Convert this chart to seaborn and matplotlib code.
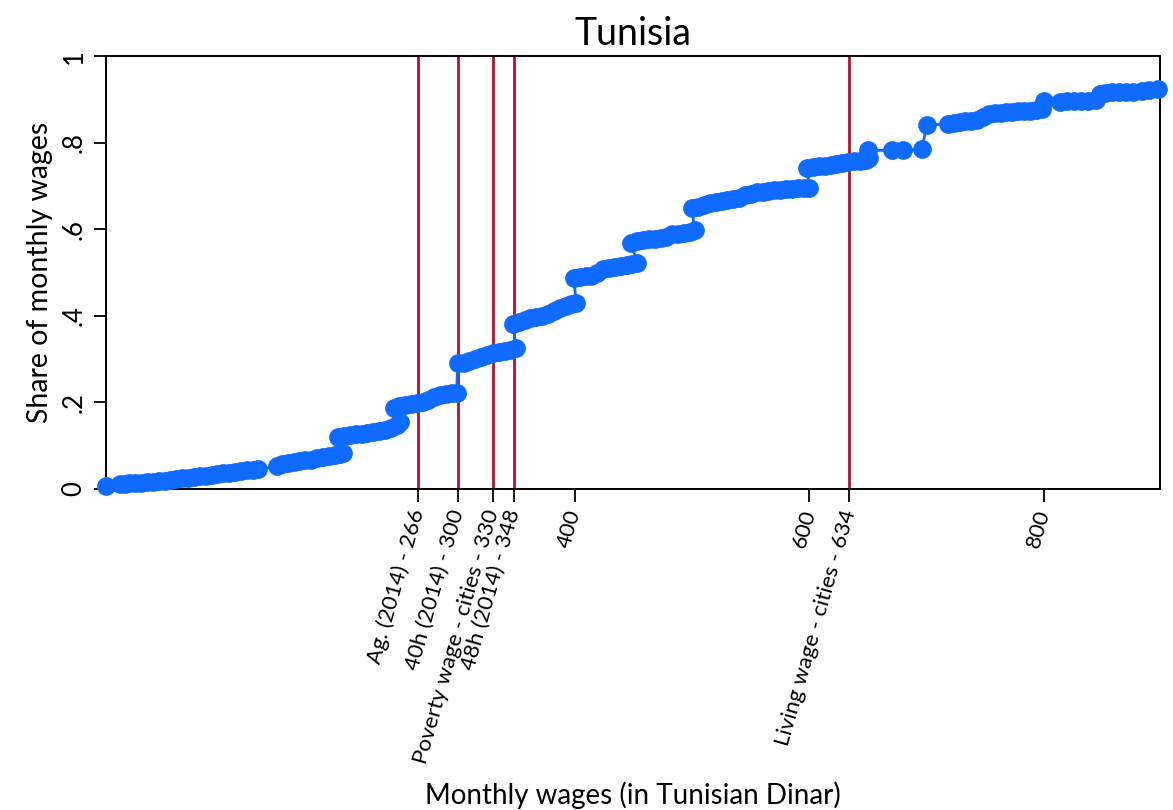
import matplotlib
matplotlib.use("Agg")
import matplotlib.pyplot as plt
import seaborn as sns
import pandas as pd

title = "Tunisia"
x_label = "Monthly wages (in Tunisian Dinar)"
y_label = "Share of monthly wages"

# Cumulative share of monthly wages
wages = [
    0,
    12, 16, 20, 25, 30, 35, 40, 45, 50, 55, 60, 65, 70, 75, 80, 85, 90, 95,
    100, 105, 110, 115, 120, 125, 130,
    146, 150, 155, 160, 165, 170, 175, 180, 185, 190, 195, 200, 202,
    198, 203, 208, 213, 218, 223, 228, 233, 238, 243, 248, 251,
    246, 250, 255, 260, 265, 270, 275, 280, 285, 290, 295, 299,
    300, 305, 310, 315, 320, 325, 330, 335, 340, 345, 350,
    347, 352, 357, 362, 367, 372, 377, 382, 387, 392, 397, 401,
    399, 404, 409, 414, 419, 424, 429, 434, 439, 444, 449, 453,
    448, 453, 458, 463, 468, 473, 478, 483, 488, 493, 498, 502,
    500, 505, 510, 515, 520, 525, 530, 535, 540, 545, 550, 555, 560, 565,
    570, 575, 580, 585, 590, 595, 600,
    598, 603, 608, 613, 618, 623, 628, 633, 638, 643, 648, 651,
    650, 670, 680, 696,
    700, 718, 723, 728, 733, 738, 743, 748, 753, 758, 763, 768, 773, 778,
    783, 788, 793, 798, 800,
    814, 820, 826, 832, 838, 844, 848, 852, 858, 864, 870, 876, 884, 890, 897,
]
shares = [
    0.008,
    0.012, 0.012, 0.013, 0.014, 0.015, 0.016, 0.017, 0.018, 0.019, 0.021, 0.023,
    0.025, 0.026, 0.027, 0.029, 0.030, 0.032, 0.034,
    0.036, 0.037, 0.039, 0.041, 0.043, 0.044, 0.046,
    0.052, 0.057, 0.060, 0.062, 0.064, 0.066, 0.068, 0.071, 0.073, 0.076, 0.079,
    0.081, 0.083,
    0.120, 0.122, 0.124, 0.126, 0.128, 0.130, 0.132, 0.134, 0.137, 0.140, 0.148,
    0.155,
    0.187, 0.192, 0.195, 0.197, 0.199, 0.201, 0.205, 0.212, 0.218, 0.220, 0.221,
    0.222,
    0.290, 0.292, 0.295, 0.300, 0.305, 0.310, 0.313, 0.316, 0.319, 0.322, 0.325,
    0.380, 0.385, 0.390, 0.395, 0.397, 0.400, 0.405, 0.410, 0.418, 0.422, 0.427,
    0.430,
    0.488, 0.490, 0.491, 0.492, 0.500, 0.507, 0.510, 0.513, 0.516, 0.518, 0.520,
    0.522,
    0.568, 0.572, 0.575, 0.577, 0.578, 0.580, 0.583, 0.588, 0.590, 0.592, 0.594,
    0.597,
    0.648, 0.652, 0.655, 0.660, 0.662, 0.665, 0.668, 0.670, 0.673, 0.678, 0.682,
    0.685, 0.687, 0.689, 0.690, 0.691, 0.692, 0.693, 0.694, 0.694, 0.695,
    0.742, 0.744, 0.745, 0.746, 0.748, 0.750, 0.752, 0.755, 0.757, 0.758, 0.760,
    0.765,
    0.782, 0.782, 0.783, 0.785,
    0.840, 0.843, 0.845, 0.847, 0.849, 0.851, 0.853, 0.858, 0.866, 0.868, 0.869,
    0.870, 0.871, 0.872, 0.873, 0.874, 0.876, 0.878, 0.897,
    0.894, 0.895, 0.895, 0.896, 0.896, 0.898, 0.912, 0.915, 0.916, 0.916, 0.917,
    0.918, 0.920, 0.922, 0.924,
]

# Reference wage lines
ref_values = [266, 300, 330, 348, 634]
ref_labels = ["Ag. (2014) - 266", "40h (2014) - 300", "Poverty wage - cities - 330",
              "48h (2014) - 348", "Living wage - cities - 634"]
plain_ticks = [400, 600, 800]
y_ticks = [0, 0.2, 0.4, 0.6, 0.8, 1.0]
y_tick_labels = ["0", ".2", ".4", ".6", ".8", "1"]

sns.set_theme(style="white")
plt.rcParams["font.family"] = ["Lato", "DejaVu Sans"]
plt.rcParams["text.color"] = "black"
plt.rcParams["axes.labelcolor"] = "black"
plt.rcParams["xtick.color"] = "black"
plt.rcParams["ytick.color"] = "black"

fig = plt.figure(figsize=(11.73, 8.10), dpi=100)
ax = fig.add_axes([106 / 1173, 1 - 489 / 810, (1160 - 106) / 1173, (489 - 56) / 810])

df = pd.DataFrame({"wage": wages, "share": shares})

for v in ref_values:
    ax.axvline(v, color="#B3122E", lw=2.0, zorder=1)

sns.lineplot(data=df, x="wage", y="share", estimator=None, sort=False,
             color="#0F6BFF", lw=2.0, marker="o", markersize=13.5,
             markeredgewidth=0, ax=ax, zorder=3, clip_on=False)

ax.set_xlim(0, 899)
ax.set_ylim(0, 1)

ticks = ref_values[:4] + plain_ticks[:2] + [ref_values[4]] + plain_ticks[2:]
labels = ref_labels[:4] + [str(t) for t in plain_ticks[:2]] + [ref_labels[4]] + [str(plain_ticks[2])]
ax.set_xticks(ticks)
ax.set_xticklabels(labels, rotation=74, ha="right", va="center",
                   rotation_mode="anchor", fontsize=16)
ax.set_yticks(y_ticks)
ax.set_yticklabels(y_tick_labels, rotation=90, va="center", ha="center", fontsize=18.5)

ax.tick_params(axis="both", which="major", direction="out", length=9, width=1.3,
               bottom=True, left=True)
ax.tick_params(axis="x", pad=6)
ax.tick_params(axis="y", pad=14)

for s in ax.spines.values():
    s.set_color("black")
    s.set_linewidth(1.4)

ax.set_xlabel(x_label, fontsize=20, va="center")
ax.xaxis.set_label_coords(0.5, (489 - 795) / (489 - 56))
ax.set_ylabel(y_label, fontsize=20.5, va="center")
ax.yaxis.set_label_coords((40 - 106) / (1160 - 106), 0.5)
ax.set_title(title, fontsize=27, pad=8, color="black")

fig.savefig("out.png", dpi=100, facecolor="white")
